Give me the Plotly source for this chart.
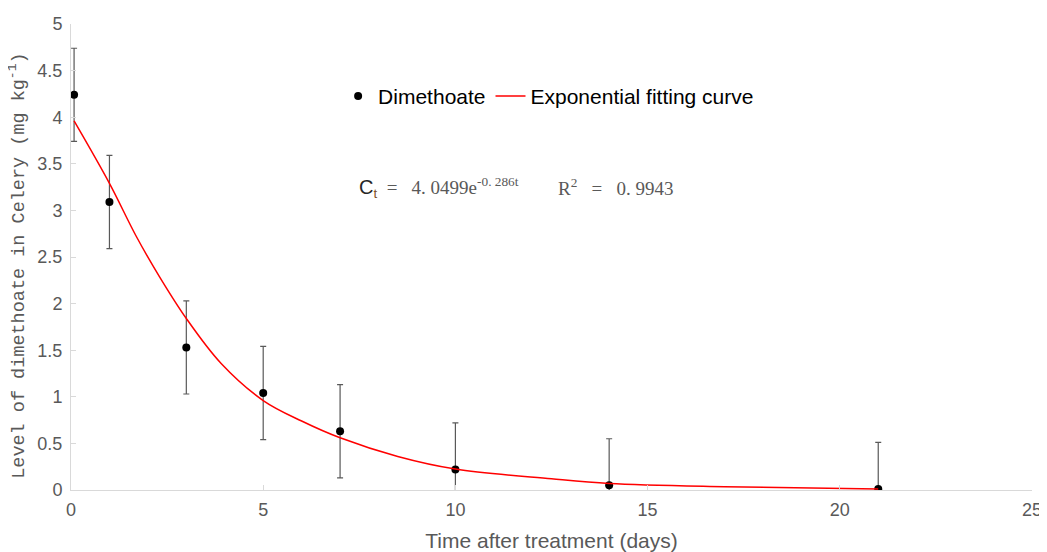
import plotly.graph_objects as go

# Observed residue data
days = [0.08, 1, 3, 5, 7, 10, 14, 21]
residue = [4.24, 3.09, 1.53, 1.04, 0.63, 0.22, 0.05, 0.01]
residue_err = [0.5, 0.5, 0.5, 0.5, 0.5, 0.5, 0.5, 0.5]

# Fitted curve values
fit_days = [0.08, 1, 1.7, 2.3, 3, 3.9, 5, 6, 7, 8.5, 10, 12.5, 14, 17, 21]
fit_values = [3.96, 3.29, 2.72, 2.29, 1.84, 1.36, 0.96, 0.74, 0.56, 0.36, 0.225, 0.12, 0.07, 0.035, 0.01]

x_ticks = [0, 5, 10, 15, 20, 25]
y_ticks = [0, 0.5, 1, 1.5, 2, 2.5, 3, 3.5, 4, 4.5, 5]
y_tick_text = ["0", "0.5", "1", "1.5", "2", "2.5", "3", "3.5", "4", "4.5", "5"]

tick_font = dict(family="Liberation Sans, Arial, sans-serif", size=18, color="#595959")

fig = go.Figure()
fig.add_trace(go.Scatter(
    x=days, y=residue, mode="markers", name="Dimethoate",
    marker=dict(color="black", size=8),
    error_y=dict(type="data", array=residue_err, visible=True,
                 color="#595959", thickness=1.2, width=3),
))
fig.add_trace(go.Scatter(
    x=fit_days, y=fit_values, mode="lines", name="Exponential fitting curve",
    line=dict(color="#ff0000", width=1.5, shape="spline", smoothing=1),
))

# page body adds an 8px offset, so the figure is sized to fit inside the window
fig.update_layout(
    width=1039, height=544,
    margin=dict(l=63, r=15, t=16, b=62),
    plot_bgcolor="white", paper_bgcolor="white",
    font=dict(family="Liberation Sans, Arial, sans-serif", color="#595959"),
    legend=dict(orientation="h", x=0.497, y=0.845, xanchor="center", yanchor="middle",
                font=dict(family="Liberation Sans, Arial, sans-serif", size=21, color="black"),
                bgcolor="rgba(0,0,0,0)", tracegroupgap=0, itemwidth=30),
    xaxis=dict(range=[0, 25], tickvals=x_ticks, showgrid=False, zeroline=False,
               automargin=False,
               showline=True, linecolor="#d9d9d9", linewidth=1,
               ticks="inside", ticklen=5, tickcolor="#d9d9d9",
               tickfont=tick_font, ticklabelstandoff=3,
               title=dict(text="Time after treatment (days)",
                          font=dict(family="Liberation Sans, Arial, sans-serif",
                                    size=21, color="#595959"), standoff=14)),
    yaxis=dict(range=[0, 5], tickvals=y_ticks, ticktext=y_tick_text,
               showgrid=False, zeroline=False, automargin=False,
               showline=True, linecolor="#d9d9d9", linewidth=1,
               ticks="inside", ticklen=5, tickcolor="#d9d9d9",
               tickfont=tick_font, ticklabelstandoff=4),
)

# y-axis title (monospaced, like the original)
fig.add_annotation(
    xref="paper", yref="paper", x=-0.0552, y=0.481, xanchor="center", yanchor="middle",
    showarrow=False, textangle=-90,
    text="Level of dimethoate in Celery (mg kg<sup>-1</sup>)",
    font=dict(family="Liberation Mono, monospace", size=18.5, color="#595959"),
)

fig.add_annotation(
    xref="paper", yref="paper", x=0.2976, y=0.650, xanchor="left", yanchor="middle",
    showarrow=False,
    text=("<span style='font-family:Liberation Sans;font-size:20px;color:#262626'>C</span>"
          "<sub><span style='font-family:Liberation Sans;color:#7f4f1f'>t</span></sub>"
          "&nbsp;&nbsp;=&nbsp;&nbsp;&nbsp;4.&nbsp;0499e<sup>-0.&nbsp;286t</sup>"),
    font=dict(family="Liberation Serif, serif", size=19, color="#595959"),
)
fig.add_annotation(
    xref="paper", yref="paper", x=0.5047, y=0.650, xanchor="left", yanchor="middle",
    showarrow=False,
    text="R<sup>2</sup>&nbsp;&nbsp;&nbsp;=&nbsp;&nbsp;&nbsp;0.&nbsp;9943",
    font=dict(family="Liberation Serif, serif", size=19, color="#595959"),
)

fig.write_html("out.html")
